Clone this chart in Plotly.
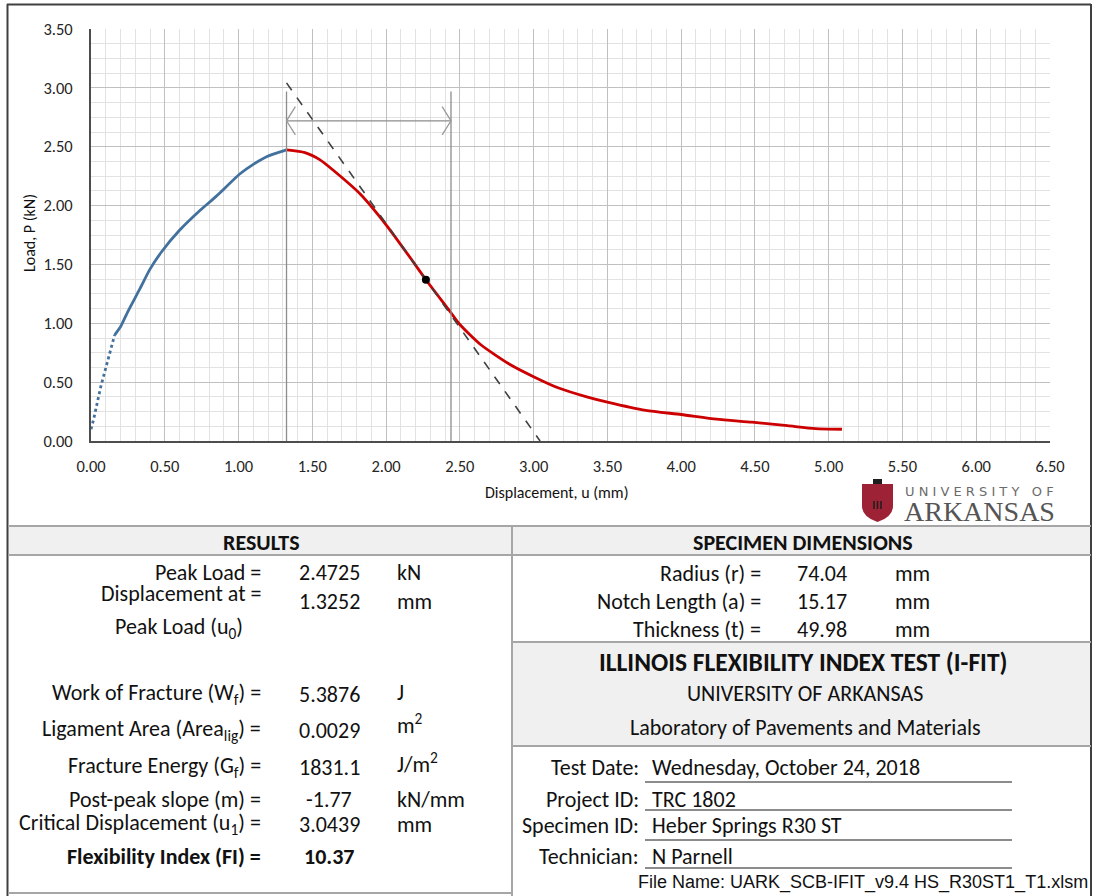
import plotly.graph_objects as go

# ---------------- test data ----------------
# seating portion (sparse readings at start of loading)
seat_u = [0.00, 0.017, 0.068, 0.16]
seat_p = [0.10, 0.18, 0.47, 0.90]

# pre-peak load-displacement
pre_u = [0.16, 0.20, 0.25, 0.33, 0.40, 0.48, 0.60, 0.74, 0.85, 1.01, 1.10, 1.19, 1.3252]
pre_p = [0.90, 0.97, 1.10, 1.29, 1.46, 1.61, 1.79, 1.96, 2.08, 2.27, 2.35, 2.415, 2.4725]

# post-peak load-displacement
post_u = [1.3252, 1.45, 1.55, 1.642, 1.823, 2.004, 2.185, 2.27, 2.422, 2.50, 2.64,
          2.84, 3.01, 3.17, 3.36, 3.50, 3.76, 4.00, 4.24, 4.48, 4.72, 4.91, 5.09]
post_p = [2.4725, 2.45, 2.39, 2.30, 2.10, 1.83, 1.52, 1.37, 1.12, 0.99, 0.82,
          0.65, 0.54, 0.45, 0.375, 0.33, 0.26, 0.225, 0.185, 0.16, 0.13, 0.105, 0.10]

# key results
peak_load = 2.4725      # kN
u0 = 1.3252             # mm, displacement at peak
u1 = 3.0439             # mm, critical displacement
slope_m = -1.77         # kN/mm, post-peak slope
infl_u, infl_p = 2.27, 1.37   # inflection point
u_ref = 2.44            # right guide line
guide_top = 2.97        # top of guide lines
arrow_p = 2.72          # level of the dimension arrow

x_ticks = [0, 0.5, 1, 1.5, 2, 2.5, 3, 3.5, 4, 4.5, 5, 5.5, 6, 6.5]
y_ticks = [0, 0.5, 1, 1.5, 2, 2.5, 3, 3.5]

# results table
res_labels = ["Peak Load =", "Displacement at =", "Work of Fracture (W<sub>f</sub>) =",
              "Ligament Area (Area<sub>lig</sub>) =", "Fracture Energy (G<sub>f</sub>) =",
              "Post-peak slope (m) =", "Critical Displacement (u<sub>1</sub>) ="]
res_values = ["2.4725", "1.3252", "5.3876", "0.0029", "1831.1", "-1.77", "3.0439"]
res_units = ["kN", "mm", "J", "m<sup>2</sup>", "J/m<sup>2</sup>", "kN/mm", "mm"]
fi_label = "Flexibility Index (FI) ="
fi_value = "10.37"

dim_labels = ["Radius (r) =", "Notch Length (a) =", "Thickness (t) ="]
dim_values = ["74.04", "15.17", "49.98"]
dim_units = ["mm", "mm", "mm"]

info_labels = ["Test Date:", "Project ID:", "Specimen ID:", "Technician:"]
info_values = ["Wednesday, October 24, 2018", "TRC 1802", "Heber Springs R30 ST", "N Parnell"]
file_name = "File Name: UARK_SCB-IFIT_v9.4 HS_R30ST1_T1.xlsm"

# ---------------- page geometry helpers ----------------
W, H = 1094, 896
FONT = "Carlito, Lato, sans-serif"
TXT = "#111111"
FS = 22


def px(x):
    return x / W


def py(y):
    return 1 - y / H


fig = go.Figure()

# seating (dotted) and loading curves
fig.add_trace(go.Scatter(x=seat_u, y=seat_p, mode="lines",
                         line=dict(color="#41719c", width=2.8, dash="dot")))
fig.add_trace(go.Scatter(x=pre_u, y=pre_p, mode="lines",
                         line=dict(color="#41719c", width=2.8, shape="spline", smoothing=0.6)))
fig.add_trace(go.Scatter(x=post_u, y=post_p, mode="lines",
                         line=dict(color="#cc0000", width=2.8, shape="spline", smoothing=0.6)))

# guide lines at u0 and reference displacement
for gx in (u0, u_ref):
    fig.add_trace(go.Scatter(x=[gx, gx], y=[0, guide_top], mode="lines",
                             line=dict(color="#8c8c8c", width=1.3)))

# dimension arrow with open chevron heads
dx, dy = 0.06, 0.12
fig.add_trace(go.Scatter(x=[u0, u_ref], y=[arrow_p, arrow_p], mode="lines",
                         line=dict(color="#8c8c8c", width=1.3)))
fig.add_trace(go.Scatter(x=[u0 + dx, u0, u0 + dx], y=[arrow_p + dy, arrow_p, arrow_p - dy],
                         mode="lines", line=dict(color="#9a9a9a", width=1.3)))
fig.add_trace(go.Scatter(x=[u_ref - dx, u_ref, u_ref - dx], y=[arrow_p + dy, arrow_p, arrow_p - dy],
                         mode="lines", line=dict(color="#9a9a9a", width=1.3)))

# post-peak slope tangent line from u0 to u1
fig.add_trace(go.Scatter(x=[u0, u1], y=[slope_m * (u0 - u1), 0], mode="lines",
                         line=dict(color="#404040", width=1.6, dash="dash")))

# inflection point
fig.add_trace(go.Scatter(x=[infl_u], y=[infl_p], mode="markers",
                         marker=dict(color="black", size=8)))

tickfont = dict(family=FONT, size=16.5, color="#262626")
fig.update_layout(
    width=W, height=H, margin=dict(l=0, r=0, t=0, b=0),
    paper_bgcolor="white", plot_bgcolor="white", showlegend=False,
    xaxis=dict(domain=[px(91), px(1050)], range=[0, 6.5], tickvals=x_ticks,
               tickformat=".2f", showgrid=True, gridcolor="#c0c0c0", gridwidth=1,
               minor=dict(dtick=0.1, tick0=0, showgrid=True, gridcolor="#e2e2e2", gridwidth=1),
               showline=True, linecolor="#4d4d4d", linewidth=2, zeroline=False,
               ticks="", tickfont=tickfont, ticklabelstandoff=9, automargin=False,
               fixedrange=True),
    yaxis=dict(domain=[py(441), py(29)], range=[0, 3.5], tickvals=y_ticks,
               tickformat=".2f", showgrid=True, gridcolor="#c0c0c0", gridwidth=1,
               minor=dict(dtick=0.125, tick0=0, showgrid=True, gridcolor="#e2e2e2", gridwidth=1),
               showline=True, linecolor="#4d4d4d", linewidth=2, zeroline=False,
               ticks="", tickfont=tickfont, ticklabelstandoff=13, automargin=False,
               fixedrange=True),
)

shapes = []
ann = []


def hline(x0, x1, y, color, width=2):
    shapes.append(dict(type="line", xref="paper", yref="paper", x0=px(x0), x1=px(x1),
                       y0=py(y), y1=py(y), line=dict(color=color, width=width)))


def vline(x, y0, y1, color, width=2):
    shapes.append(dict(type="line", xref="paper", yref="paper", x0=px(x), x1=px(x),
                       y0=py(y0), y1=py(y1), line=dict(color=color, width=width)))


def box(x0, y0, x1, y1, fill):
    shapes.append(dict(type="rect", xref="paper", yref="paper", x0=px(x0), x1=px(x1),
                       y0=py(y1), y1=py(y0), fillcolor=fill, line=dict(width=0), layer="below"))


def text(x, y, s, size=FS, anchor="center", color=TXT, family=FONT, angle=0):
    ann.append(dict(xref="paper", yref="paper", x=px(x), y=py(y), text=s, showarrow=False,
                    xanchor=anchor, yanchor="middle", textangle=angle,
                    font=dict(family=family, size=size, color=color)))


# outer frame
GRID = "#a6a6a6"
hline(7, 1091, 4.5, "#404040", 2)
vline(7.5, 4, 896, "#404040", 2)
vline(1091, 4, 896, "#404040", 2)

# table bands
box(8, 526, 1091, 555, "#f0f0f0")
box(512, 642, 1091, 746, "#f0f0f0")
hline(8, 1091, 526, GRID)
hline(8, 1091, 555, GRID)
vline(512, 526, 896, GRID)
hline(512, 1091, 642, GRID)
hline(512, 1091, 746, GRID)
hline(8, 512, 893, GRID)

# axis titles
text(30, 233, "Load, P (kN)", size=16, angle=-90)
text(557, 492, "Displacement, u (mm)", size=16)

# section headers
text(261, 542, "<b>RESULTS</b>", size=22)
text(803, 542, "<b>SPECIMEN DIMENSIONS</b>", size=22)

# results section
res_y = [572, 593, 694, 730, 767, 799, 824]
val_y = [572, 601, 694, 730, 767, 799, 824]
unit_y = [572, 601, 692, 724, 763, 799, 824]
for lab, val, unit, ly, vy, uy in zip(res_labels, res_values, res_units, res_y, val_y, unit_y):
    text(263, ly, lab, anchor="right")
    text(329, vy, val)
    text(395, uy, unit, anchor="left")
text(245, 628, "Peak Load (u<sub>0</sub>)", anchor="right")
text(263, 856, "<b>" + fi_label + "</b>", anchor="right")
text(329, 856, "<b>" + fi_value + "</b>")

# specimen dimensions
for lab, val, unit, yy in zip(dim_labels, dim_values, dim_units, [573, 601, 629]):
    text(763, yy, lab, anchor="right")
    text(822, yy, val)
    text(893, yy, unit, anchor="left")

# test title block
text(803, 662, "<b>ILLINOIS FLEXIBILITY INDEX TEST (I-FIT)</b>", size=25.5)
text(805, 693, "UNIVERSITY OF ARKANSAS")
text(805, 727, "Laboratory of Pavements and Materials")

# test information with underlines
for lab, val, yy, ul in zip(info_labels, info_values, [767, 799, 825, 856], [782, 810, 840, 868]):
    text(641, yy, lab, anchor="right")
    text(650, yy, val, anchor="left")
    hline(645, 1012, ul, "#1a1a1a", 1.2)
text(1090, 882, file_name, size=18, anchor="right",
     family="Liberation Sans Narrow, Arial Narrow, sans-serif", color="#111111")

# university mark
shapes.append(dict(type="path", xref="paper", yref="paper",
                   path="M {a},{b} L {c},{b} L {c},{d} Q {c},{e} {f},{g} Q {a},{e} {a},{d} Z".format(
                       a=px(862), b=py(484), c=px(893), d=py(506), e=py(517), f=px(877.5), g=py(522)),
                   fillcolor="#9d2235", line=dict(width=0)))
box(868, 486, 887, 514, "#1e1e1e")
box(873, 479, 882, 487, "#1e1e1e")
box(871, 500, 884, 510, "#ffffff")
for bx in (874, 877.5, 881):
    vline(bx, 501, 509, "#1e1e1e", 1.5)
text(979, 491, "U N I V E R S I T Y   O F", size=13, color="#6b6b6b",
     family="DejaVu Sans, sans-serif")
text(979, 511, "ARKANSAS", size=28, color="#555555",
     family="Liberation Serif, DejaVu Serif, serif")

fig.update_layout(shapes=shapes, annotations=ann)
fig.write_html("out.html")
